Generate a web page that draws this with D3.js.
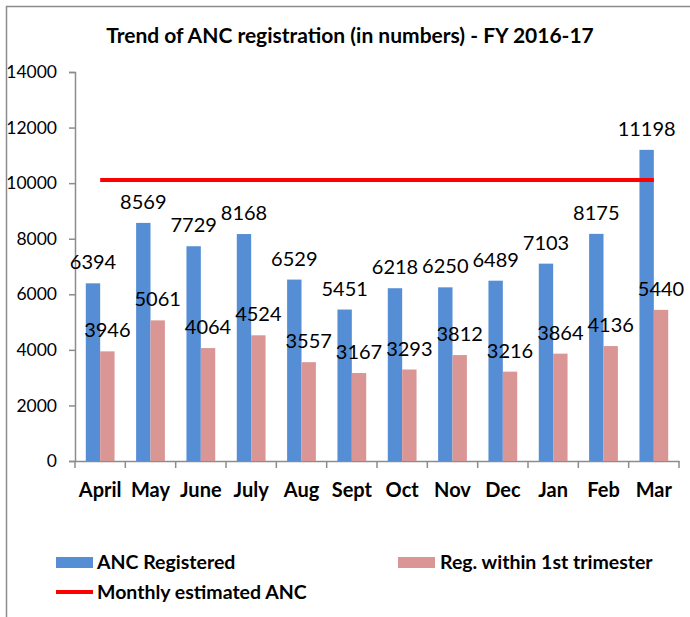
<!DOCTYPE html>
<html>
<head>
<meta charset="utf-8">
<script src="https://cdnjs.cloudflare.com/ajax/libs/d3/7.8.5/d3.min.js"></script>
<style>
  body { margin: 0; background: #fff; }
  text { font-family: Lato, "Noto Sans", sans-serif; fill: #000; }
</style>
</head>
<body>
<div id="chart"></div>
<script>
// months on the x axis
var months = ["April", "May", "June", "July", "Aug", "Sept", "Oct", "Nov", "Dec", "Jan", "Feb", "Mar"];
// ANC registered each month
var ancRegistered = [6394, 8569, 7729, 8168, 6529, 5451, 6218, 6250, 6489, 7103, 8175, 11198];
// registered within the 1st trimester
var firstTrimester = [3946, 5061, 4064, 4524, 3557, 3167, 3293, 3812, 3216, 3864, 4136, 5440];
// monthly estimated ANC (flat target line)
var monthlyEstimated = [10110, 10110, 10110, 10110, 10110, 10110, 10110, 10110, 10110, 10110, 10110, 10110];
var yTicks = [0, 2000, 4000, 6000, 8000, 10000, 12000, 14000];

var svgWidth = 690;
var svgHeight = 617;
var margin = { top: 72, right: 11, bottom: 156, left: 75 };
var width = svgWidth - margin.left - margin.right;
var height = svgHeight - margin.top - margin.bottom;

var svg = d3.select("#chart")
    .append("svg")
    .attr("width", svgWidth)
    .attr("height", svgHeight);

// outer frame
svg.append("rect")
    .attr("x", 6.5)
    .attr("y", 6.5)
    .attr("width", 720)
    .attr("height", 720)
    .attr("fill", "none")
    .attr("stroke", "#8c8c8c")
    .attr("stroke-width", 1.5);

svg.append("text")
    .attr("x", 350)
    .attr("y", 43)
    .attr("text-anchor", "middle")
    .attr("font-size", "21px")
    .attr("font-weight", "bold")
    .text("Trend of ANC registration (in numbers) - FY 2016-17");

var chartGroup = svg.append("g")
    .attr("transform", `translate(${margin.left}, ${margin.top})`);

var rows = months.map((m, i) => ({
    month: m,
    anc: ancRegistered[i],
    first: firstTrimester[i],
    est: monthlyEstimated[i]
}));

// scales
var x0 = d3.scaleBand()
    .domain(months)
    .range([0, width]);

var x1 = d3.scaleBand()
    .domain(["anc", "first"])
    .range([0, x0.bandwidth()])
    .paddingOuter(0.75);

var y = d3.scaleLinear()
    .domain([0, 14000])
    .range([height, 0]);

// y axis
var leftAxis = d3.axisLeft(y)
    .tickValues(yTicks)
    .tickSize(6)
    .tickPadding(12)
    .tickFormat(d3.format("d"));

var yAxisG = chartGroup.append("g").call(leftAxis);
yAxisG.select(".domain").attr("stroke", "#8c8c8c").attr("stroke-width", 1.5);
yAxisG.selectAll(".tick line").attr("stroke", "#8c8c8c").attr("stroke-width", 1.5);
yAxisG.selectAll(".tick text")
    .attr("font-size", "17.5px")
    .attr("font-family", "Lato, sans-serif")
    .attr("fill", "#000");

// x axis: labels centred, ticks on category boundaries
var bottomAxis = d3.axisBottom(x0).tickSize(0).tickPadding(22);
var xAxisG = chartGroup.append("g")
    .attr("transform", `translate(0, ${height})`)
    .call(bottomAxis);
xAxisG.select(".domain").attr("stroke", "#8c8c8c").attr("stroke-width", 1.5);
xAxisG.selectAll(".tick text")
    .attr("font-size", "20px")
    .attr("font-weight", "bold")
    .attr("font-family", "Lato, sans-serif")
    .attr("fill", "#000");

var bounds = months.map(m => x0(m)).concat([width]);
xAxisG.selectAll(".bound")
    .data(bounds)
    .enter()
    .append("line")
    .attr("x1", d => d)
    .attr("x2", d => d)
    .attr("y1", 0)
    .attr("y2", 7)
    .attr("stroke", "#8c8c8c")
    .attr("stroke-width", 1.5);

// bars
var groups = chartGroup.selectAll(".month")
    .data(rows)
    .enter()
    .append("g")
    .attr("transform", d => `translate(${x0(d.month)}, 0)`);

groups.append("rect")
    .attr("x", x1("anc"))
    .attr("y", d => y(d.anc))
    .attr("width", x1.bandwidth())
    .attr("height", d => height - y(d.anc))
    .attr("fill", "#558ed5");

groups.append("rect")
    .attr("x", x1("first"))
    .attr("y", d => y(d.first))
    .attr("width", x1.bandwidth())
    .attr("height", d => height - y(d.first))
    .attr("fill", "#d99694");

// target line
var line = d3.line()
    .x(d => x0(d.month) + x0.bandwidth() / 2)
    .y(d => y(d.est));

chartGroup.append("path")
    .datum(rows)
    .attr("d", line)
    .attr("fill", "none")
    .attr("stroke", "#ff0000")
    .attr("stroke-width", 4);

// value labels
groups.append("text")
    .attr("x", x1("anc") + x1.bandwidth() / 2)
    .attr("y", d => y(d.anc) - 14)
    .attr("text-anchor", "middle")
    .attr("font-size", "20px")
    .text(d => d.anc);

groups.append("text")
    .attr("x", x1("first") + x1.bandwidth() / 2)
    .attr("y", d => y(d.first) - 14)
    .attr("text-anchor", "middle")
    .attr("font-size", "20px")
    .text(d => d.first);

// legend
var legend = svg.append("g");
legend.append("rect")
    .attr("x", 56).attr("y", 557).attr("width", 37).attr("height", 11)
    .attr("fill", "#558ed5");
legend.append("text")
    .attr("x", 97).attr("y", 569)
    .attr("font-size", "19.5px").attr("font-weight", "bold")
    .text("ANC Registered");

legend.append("rect")
    .attr("x", 398).attr("y", 557).attr("width", 37).attr("height", 11)
    .attr("fill", "#d99694");
legend.append("text")
    .attr("x", 440).attr("y", 569)
    .attr("font-size", "19.5px").attr("font-weight", "bold")
    .text("Reg. within 1st trimester");

legend.append("line")
    .attr("x1", 56).attr("x2", 93).attr("y1", 592).attr("y2", 592)
    .attr("stroke", "#ff0000").attr("stroke-width", 4);
legend.append("text")
    .attr("x", 97).attr("y", 599)
    .attr("font-size", "19.5px").attr("font-weight", "bold")
    .text("Monthly estimated ANC");
</script>
</body>
</html>
